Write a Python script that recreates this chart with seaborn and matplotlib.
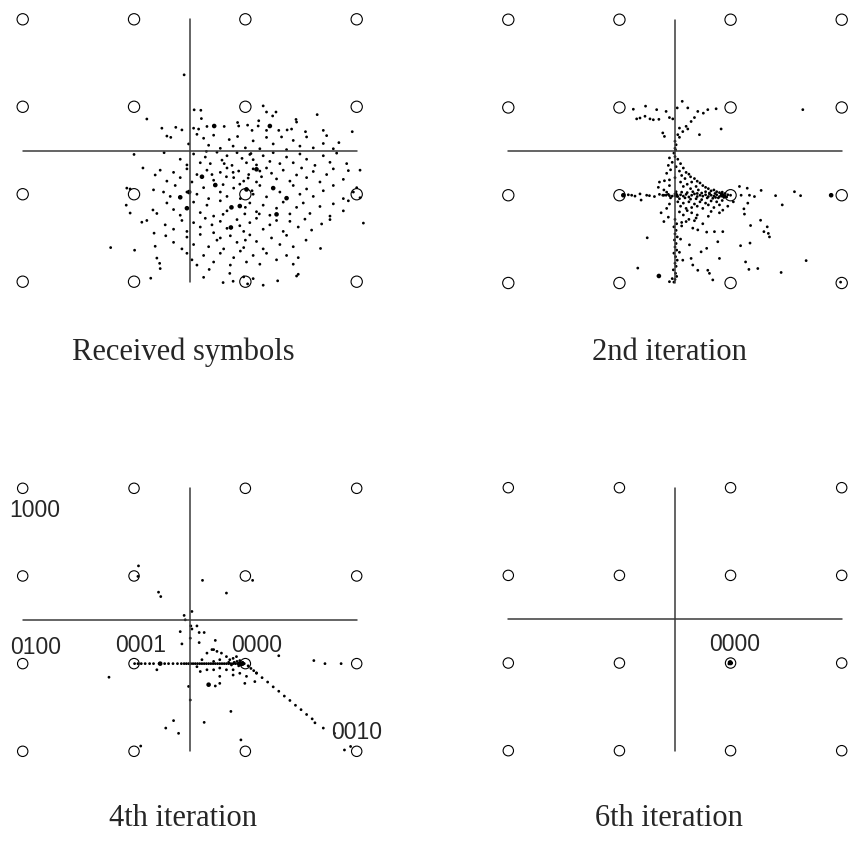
import matplotlib
matplotlib.use("Agg")
import matplotlib.pyplot as plt
import pandas as pd
import seaborn as sns

# 16-QAM reference grid
levels = [-3, -1, 1, 3]

# Received symbols (panel 1)
received = [
    (-0.10, 1.73),
    (0.08, 0.93), (0.20, 0.92), (1.32, 1.02), (1.38, 0.88), (1.49, 0.79), (1.55, 0.88),
    (-0.77, 0.72), (-0.50, 0.51), (-0.25, 0.53), (-0.14, 0.47), (0.07, 0.51), (0.16, 0.49),
    (0.21, 0.73), (0.31, 0.55), (0.62, 0.55), (0.86, 0.64), (0.88, 0.56), (1.04, 0.58),
    (1.12, 0.46), (1.23, 0.56), (1.24, 0.68), (1.38, 0.46), (1.60, 0.46), (1.75, 0.47),
    (1.83, 0.49), (1.91, 0.71), (1.92, 0.65), (2.08, 0.43), (2.29, 0.82), (2.40, 0.46), (2.92, 0.43),
    (-0.41, 0.33), (-0.34, 0.30), (-0.02, 0.15), (0.13, 0.37), (0.25, 0.28), (0.34, 0.12),
    (0.43, 0.35), (0.55, 0.05), (0.71, 0.25), (0.78, 0.10), (0.86, 0.32), (1.00, 0.06),
    (1.14, 0.22), (1.26, 0.04), (1.38, 0.30), (1.50, 0.15), (1.65, 0.31), (1.74, 0.02),
    (1.86, 0.23), (1.98, 0.10), (2.10, 0.31), (2.22, 0.06), (2.40, 0.16), (2.46, 0.34),
    (2.58, 0.04), (2.68, 0.18), (-1.00, -0.09),
    (-0.84, -0.40), (-0.46, -0.05), (-0.17, -0.20), (-0.05, -0.33), (0.07, -0.08), (0.19, -0.28),
    (0.28, -0.15), (0.37, -0.30), (0.49, -0.04), (0.58, -0.22), (0.67, -0.12), (0.76, -0.34),
    (0.85, -0.05), (0.94, -0.18), (1.02, -0.28), (1.08, -0.09), (1.14, -0.21), (1.20, -0.33),
    (1.32, -0.12), (1.44, -0.25), (1.50, -0.05), (1.62, -0.30), (1.74, -0.15), (1.86, -0.28),
    (1.98, -0.08), (2.10, -0.20), (2.25, -0.34), (2.40, -0.12), (2.52, -0.27), (2.64, -0.06),
    (2.82, -0.30), (0.62, -0.30), (1.10, -0.07), (0.30, -0.02),
    (-0.62, -0.56), (-0.53, -0.45), (-0.41, -0.70), (-0.29, -0.50), (-0.17, -0.62), (-0.05, -0.42),
    (0.04, -0.72), (0.13, -0.55), (0.22, -0.60), (0.31, -0.45), (0.43, -0.68), (0.55, -0.50),
    (0.67, -0.40), (0.79, -0.62), (0.88, -0.47), (0.97, -0.70), (1.06, -0.55), (1.14, -0.42),
    (1.20, -0.72), (1.29, -0.60), (1.38, -0.40), (1.47, -0.52), (1.56, -0.65), (1.68, -0.45),
    (1.80, -0.70), (1.92, -0.56), (2.01, -0.40), (2.10, -0.62), (2.22, -0.48), (2.34, -0.72),
    (2.46, -0.55), (2.58, -0.42), (2.76, -0.66), (2.85, -0.46), (3.06, -0.45), (0.66, -0.60),
    (1.05, -0.63), (1.26, -0.47), (0.78, -0.50), (0.40, -0.55),
    (-1.13, -0.86), (-1.07, -0.88), (-0.65, -0.90), (-0.47, -0.95), (-0.35, -1.05), (-0.26, -0.80),
    (-0.17, -1.07), (-0.05, -0.95), (-0.01, -0.95), (0.13, -1.00), (0.25, -0.85), (0.34, -1.10),
    (0.46, -0.78), (0.55, -0.95), (0.67, -1.05), (0.79, -0.86), (0.91, -1.10), (1.02, -0.88),
    (1.14, -1.00), (1.26, -0.80), (1.38, -1.06), (1.50, -0.86), (1.62, -0.95), (1.74, -1.10),
    (1.86, -0.80), (1.98, -1.00), (2.10, -0.88), (2.22, -1.05), (2.40, -0.92), (2.58, -0.80),
    (2.76, -1.10), (2.94, -0.95), (3.00, -0.85), (3.06, -1.08), (0.45, -0.80), (0.60, -0.78),
    (0.90, -0.77), (1.12, -0.92),
    (-1.14, -1.25), (-1.07, -1.43), (-0.66, -1.36), (-0.59, -1.44), (-0.41, -1.20), (-0.29, -1.35),
    (-0.17, -1.48), (-0.05, -1.32), (0.07, -1.18), (0.19, -1.42), (0.31, -1.25), (0.43, -1.50),
    (0.55, -1.15), (0.67, -1.38), (0.75, -1.30), (0.90, -1.27), (0.99, -1.45), (1.08, -1.20),
    (1.20, -1.40), (1.32, -1.25), (1.44, -1.48), (1.56, -1.32), (1.68, -1.18), (1.80, -1.45),
    (1.92, -1.30), (2.04, -1.20), (2.16, -1.44), (2.34, -1.28), (2.52, -1.50), (2.58, -1.22),
    (2.76, -1.38), (2.85, -1.15), (1.25, -1.45), (0.60, -1.46), (1.00, -1.30),
    (-0.86, -1.64), (-0.77, -1.60), (-0.64, -1.89), (-0.44, -1.70), (-0.29, -1.80), (-0.14, -1.60),
    (-0.05, -1.85), (0.07, -1.65), (0.19, -1.75), (0.28, -1.55), (0.43, -1.88), (0.55, -1.62),
    (0.67, -1.78), (0.74, -1.77), (0.85, -1.58), (0.97, -1.85), (1.08, -1.65), (1.20, -1.55),
    (1.32, -1.80), (1.44, -1.70), (1.56, -1.60), (1.68, -1.85), (1.80, -1.62), (1.95, -1.75),
    (2.07, -1.57), (2.19, -1.82), (2.37, -1.68), (2.52, -1.58), (3.12, -1.66), (0.40, -1.70),
    (0.90, -1.72),
    (-1.42, -2.22), (-0.99, -2.28), (-0.62, -2.19), (-0.43, -1.95), (-0.29, -2.10), (-0.14, -2.25),
    (-0.05, -1.98), (0.07, -2.15), (0.19, -1.92), (0.34, -2.20), (0.49, -2.05), (0.61, -2.25),
    (0.73, -1.95), (0.85, -2.10), (0.97, -2.22), (1.08, -1.93), (1.20, -2.08), (1.32, -2.25),
    (1.47, -2.00), (1.62, -2.15), (1.74, -1.94), (1.86, -2.20), (2.09, -2.05), (2.35, -2.24),
    (0.55, -2.00), (1.00, -2.05),
    (-0.59, -2.46), (-0.54, -2.58), (-0.05, -2.35), (0.04, -2.50), (0.13, -2.62), (0.25, -2.40),
    (0.43, -2.55), (0.55, -2.35), (0.73, -2.62), (0.79, -2.45), (0.91, -2.30), (1.02, -2.55),
    (1.14, -2.40), (1.26, -2.60), (1.38, -2.35), (1.56, -2.50), (1.74, -2.40), (1.86, -2.60),
    (1.95, -2.45),
    (-0.70, -2.92), (-0.53, -2.70), (0.25, -2.90), (0.35, -2.72), (0.60, -3.02), (0.72, -2.81),
    (0.78, -2.99), (0.97, -2.89), (1.04, -3.05), (1.14, -2.93), (1.32, -3.08), (1.58, -2.98),
    (1.92, -2.87), (1.95, -2.83),
]
received_heavy = [
    (0.44, 0.56), (1.44, 0.56), (0.22, -0.60), (1.20, -0.43), (-0.17, -1.07), (-0.01, -0.95),
    (0.46, -0.79), (1.02, -0.89), (1.50, -0.86), (1.74, -1.09), (-0.05, -1.32), (0.75, -1.30),
    (0.90, -1.27), (1.56, -1.46), (0.74, -1.76),
]

# 2nd iteration
iter2 = [
    (-0.75, 0.96), (-0.53, 1.03), (-0.33, 0.95), (-0.16, 0.91), (-0.69, 0.74), (-0.63, 0.76),
    (-0.54, 0.80), (-0.45, 0.74), (-0.39, 0.72), (-0.29, 0.73), (-0.10, 0.77), (-0.04, 0.74),
    (0.04, 0.99), (0.13, 1.14), (0.23, 0.99), (0.41, 0.91), (0.51, 0.87), (0.59, 0.95),
    (0.74, 0.97), (0.35, 0.77), (0.29, 0.68), (0.20, 0.57), (0.08, 0.53), (0.14, 0.45),
    (0.05, 0.38), (0.23, 0.51), (0.44, 0.38), (0.83, 0.51), (-0.22, 0.42), (-0.19, 0.34),
    (0.08, 0.32), (0.00, 0.23), (0.02, 0.15), (0.00, 0.07), (0.01, 0.03), (-0.02, -0.04),
    (0.00, -0.12), (2.30, 0.95),
    (-0.10, -0.15), (0.05, -0.18), (-0.05, -0.25), (0.10, -0.28), (-0.12, -0.32), (0.02, -0.35),
    (0.15, -0.38), (-0.08, -0.42), (0.08, -0.45), (0.20, -0.48), (-0.15, -0.50), (0.12, -0.55),
    (0.25, -0.52), (0.00, -0.60), (0.18, -0.62),
    (0.28, -0.58), (0.35, -0.62), (0.30, -0.70), (0.40, -0.68), (0.22, -0.75), (0.45, -0.72),
    (0.38, -0.80), (0.50, -0.78), (0.28, -0.85), (0.42, -0.88), (0.55, -0.82), (0.15, -0.80),
    (0.32, -0.92), (0.10, -0.70), (-0.10, -0.78), (-0.20, -0.88), (-0.30, -0.82),
    (0.60, -0.85), (0.65, -0.90), (0.70, -0.88), (0.75, -0.92), (0.80, -0.94), (0.85, -0.93),
    (0.90, -0.96), (0.62, -0.95), (0.72, -0.96), (0.55, -0.92), (0.48, -0.95), (0.40, -0.96),
    (-0.20, -1.00), (-0.12, -0.98), (-0.05, -1.02), (0.00, -0.97), (0.05, -1.03), (0.10, -0.99),
    (0.15, -1.02), (0.20, -0.98), (0.25, -1.04), (0.30, -1.00), (0.35, -0.97), (0.40, -1.03),
    (0.45, -1.00), (0.50, -1.02), (0.55, -0.99), (0.60, -1.03), (0.65, -1.00), (0.70, -1.02),
    (0.75, -0.99), (0.80, -1.03), (0.85, -1.00), (0.90, -1.02), (0.95, -0.99), (1.00, -1.00),
    (0.58, -1.06), (0.68, -1.07), (0.78, -1.06), (0.88, -1.05), (0.62, -0.97), (0.73, -1.05),
    (0.83, -0.97), (0.93, -1.04), (-0.08, -1.06), (0.08, -1.08), (0.18, -1.06), (0.28, -1.09),
    (0.38, -1.08), (0.48, -1.10), (-0.15, -0.93), (0.02, -0.92), (0.12, -0.93), (0.22, -0.94),
    (0.05, -1.15), (0.15, -1.18), (0.25, -1.15), (0.35, -1.20), (0.45, -1.15), (0.55, -1.18),
    (0.65, -1.13), (0.75, -1.15), (0.85, -1.12), (0.10, -1.25), (0.20, -1.30), (0.30, -1.28),
    (0.40, -1.25), (0.50, -1.30), (0.60, -1.22), (0.70, -1.28), (0.95, -1.25), (1.05, -1.15),
    (0.22, -1.35), (0.30, -1.40), (0.15, -1.45), (0.08, -1.38), (-0.15, -1.30), (-0.25, -1.40),
    (-0.10, -1.20), (0.40, -1.45), (0.60, -1.48), (0.80, -1.40), (0.25, -1.55), (-0.20, -1.60),
    (-0.12, -1.50), (0.12, -1.62), (0.35, -1.58), (0.50, -1.65),
    (0.00, -1.55), (0.03, -1.65), (-0.02, -1.72), (0.02, -1.80), (0.00, -1.88), (0.04, -1.95),
    (-0.01, -2.02), (0.02, -2.10), (0.00, -2.18), (0.03, -2.25), (-0.02, -2.32), (0.01, -2.40),
    (0.04, -2.48), (0.00, -2.55), (0.02, -2.62), (-0.03, -2.70), (0.01, -2.78), (0.03, -2.85),
    (0.00, -2.92), (-0.02, -2.98), (0.10, -2.00), (0.08, -2.30), (0.12, -1.70), (-0.05, -2.90),
    (-0.93, -1.00), (-0.84, -0.99), (-0.78, -1.00), (-0.72, -1.02), (-0.63, -0.97), (-0.61, -1.11),
    (-0.51, -1.00), (-0.46, -1.01), (-0.37, -1.03), (-0.28, -0.98), (-0.22, -1.00), (-0.16, -1.00),
    (-0.10, -1.01), (-0.28, -0.70), (-0.19, -0.67), (-0.10, -0.65),
    (0.14, -2.48), (0.29, -2.44), (0.32, -2.59), (0.41, -2.71), (0.47, -2.29), (0.59, -2.71),
    (0.62, -2.78), (0.68, -2.93), (0.80, -2.44), (0.77, -2.06), (0.71, -1.83), (0.57, -1.84),
    (0.86, -1.83), (0.57, -2.21), (0.41, -1.79), (0.32, -1.75), (0.26, -2.13), (0.20, -1.60),
    (0.38, -1.52), (0.65, -1.37), (0.80, -1.22), (0.86, -1.34), (-0.50, -1.97), (-0.67, -2.66),
    (-0.10, -2.97),
    (1.16, -0.80), (1.30, -0.84), (1.19, -1.00), (1.34, -1.00), (1.43, -1.03), (1.55, -0.89),
    (1.81, -1.01), (2.15, -0.92), (2.26, -1.01), (1.93, -1.22), (1.31, -1.18), (1.24, -1.31),
    (1.25, -1.43), (1.36, -1.69), (1.54, -1.57), (1.66, -1.72), (1.60, -1.83), (1.68, -1.87),
    (1.70, -1.95), (1.35, -2.09), (1.18, -2.15), (2.36, -2.49), (1.27, -2.52), (1.33, -2.69),
    (1.49, -2.67), (1.91, -2.76), (2.98, -2.98),
]
iter2_heavy = [(-0.29, -2.84), (2.81, -1.00), (-0.93, -1.00), (0.02, -1.00), (0.85, -1.00)]

# 4th iteration
iter4 = [
    (-0.92, 1.23), (-0.93, 0.99), (0.23, 0.90), (1.13, 0.90), (-0.56, 0.63), (-0.52, 0.53),
    (0.66, 0.61), (-0.10, 0.10), (0.04, 0.19), (-0.08, 0.00), (0.02, -0.14), (0.13, -0.14),
    (-0.17, -0.27), (0.04, -0.21), (0.17, -0.29), (0.26, -0.29), (-0.14, -0.55), (0.17, -0.52),
    (0.01, -0.42), (0.46, -0.47), (0.43, -0.68),
    (-0.99, -1.00), (-0.93, -1.00), (-0.87, -1.00), (-0.80, -1.00), (-0.72, -1.00), (-0.65, -1.00),
    (-0.55, -1.00), (-0.45, -1.00), (-0.38, -1.00), (-0.30, -1.00), (-0.22, -1.00), (-0.15, -1.00),
    (-0.10, -1.00), (-0.06, -1.00), (-0.02, -1.00), (0.02, -1.00), (0.06, -1.00), (0.10, -1.00),
    (0.14, -1.00), (0.18, -1.00), (0.22, -1.00), (0.26, -1.00), (0.30, -1.00), (0.34, -1.00),
    (0.38, -1.00), (0.42, -1.00), (0.46, -1.00), (0.50, -1.00), (0.54, -1.00), (0.58, -1.00),
    (0.62, -1.00), (0.66, -1.00), (0.70, -1.00), (0.74, -1.00), (0.78, -1.00), (0.82, -1.00),
    (0.86, -1.00), (0.90, -1.00), (0.94, -1.00), (0.98, -1.00), (0.85, -0.95), (0.90, -0.93),
    (0.95, -0.97), (0.88, -1.05), (0.93, -1.03), (0.80, -0.97), (0.75, -1.03), (0.70, -0.97),
    (1.05, -1.05), (1.10, -1.11), (1.15, -1.16), (1.20, -1.21), (1.30, -1.32), (1.40, -1.42),
    (1.50, -1.53), (1.60, -1.63), (1.70, -1.74), (1.80, -1.84), (1.90, -1.95), (2.00, -2.05),
    (2.10, -2.16), (2.20, -2.26), (2.25, -2.35), (2.40, -2.47),
    (-1.45, -1.31), (-0.59, -1.14), (-0.02, -1.52), (0.01, -1.83), (0.46, -1.51), (0.54, -1.45),
    (0.74, -2.09), (0.26, -2.34), (-0.29, -2.30), (-0.43, -2.47), (-0.20, -2.59), (-0.88, -2.88),
    (0.92, -2.74), (1.60, -0.82), (2.23, -0.93), (2.43, -1.00), (2.72, -1.00), (2.60, -2.59),
    (2.78, -2.97), (2.89, -2.89),
    (0.31, -0.76), (0.40, -0.68), (0.49, -0.72), (0.57, -0.76), (0.66, -0.84), (0.72, -0.91),
    (0.78, -0.88), (0.84, -0.84), (0.54, -0.91), (0.43, -0.95), (0.31, -1.14), (0.43, -1.14),
    (0.54, -1.10), (0.66, -1.14), (0.78, -1.14), (0.90, -1.22), (1.02, -1.29), (1.20, -1.22),
    (1.17, -1.41), (0.99, -1.45), (0.78, -1.26), (0.54, -1.29), (0.19, -1.18), (0.13, -1.07),
    (0.22, -0.91),
]
iter4_heavy = [(-0.53, -1.00), (0.34, -1.48), (0.95, -1.00), (0.90, -1.00)]

# 6th iteration
iter6 = [(1.00, -1.00), (0.98, -0.98), (1.02, -1.00), (0.97, -1.02), (1.00, -0.97)]
iter6_heavy = [(1.00, -1.00), (0.99, -0.99)]

captions = ["Received symbols", "2nd iteration", "4th iteration", "6th iteration"]

# bit labels (text, x, y)
labels4 = [("1000", -2.78, 2.49), ("0100", -2.77, -0.64), ("0001", -0.89, -0.59),
           ("0000", 1.21, -0.59), ("0010", 2.99, -2.56)]
labels6 = [("0000", 1.08, -0.57)]

W, H = 849, 843
fig = plt.figure(figsize=(W / 100, H / 100), dpi=100)
sns.set_style("white")

# panel extents in pixels: x0, x1, ytop, ybottom (grid spans -3..3)
boxes = [(22.7, 356.7, 19.3, 281.7), (508.3, 841.7, 19.7, 283.0),
         (22.7, 356.7, 488.3, 751.3), (508.3, 841.7, 487.7, 750.7)]
cloud_sets = [(received, received_heavy), (iter2, iter2_heavy),
              (iter4, iter4_heavy), (iter6, iter6_heavy)]
ring_size = [66, 66, 56, 56]
caption_pos = [(183, 352), (669, 352), (183, 818), (669, 818)]

grid = pd.DataFrame([(a, b) for a in levels for b in levels], columns=["x", "y"])

for i, (x0, x1, yt, yb) in enumerate(boxes):
    ax = fig.add_axes([x0 / W, 1 - yb / H, (x1 - x0) / W, (yb - yt) / H])
    ax.set_xlim(-3, 3)
    ax.set_ylim(-3, 3)
    ax.axis("off")
    ax.plot([0, 0], [-3, 3], color="#3a3a3a", lw=1.1, clip_on=False)
    ax.plot([-3, 3], [0, 0], color="#3a3a3a", lw=1.1, clip_on=False)

    pts, heavy = cloud_sets[i]
    df = pd.DataFrame(pts, columns=["x", "y"])
    dh = pd.DataFrame(heavy, columns=["x", "y"])
    sns.scatterplot(data=df, x="x", y="y", ax=ax, color="black", s=4,
                    edgecolor="none", linewidth=0)
    sns.scatterplot(data=dh, x="x", y="y", ax=ax, color="black", s=11,
                    edgecolor="none", linewidth=0)
    sns.scatterplot(data=grid, x="x", y="y", ax=ax, s=ring_size[i], facecolor="none",
                    edgecolor="black", linewidth=0.8)
    for c in ax.collections:
        c.set_clip_on(False)
    ax.set_xlabel("")
    ax.set_ylabel("")

    if i == 2:
        for t, lx, ly in labels4:
            ax.text(lx, ly, t, ha="center", va="center", fontsize=16.5,
                    family="Liberation Sans")
    if i == 3:
        for t, lx, ly in labels6:
            ax.text(lx, ly, t, ha="center", va="center", fontsize=16.5,
                    family="Liberation Sans")

    cx, cy = caption_pos[i]
    fig.text(cx / W, 1 - cy / H, captions[i], ha="center", va="center",
             fontsize=22, family="Liberation Serif")

fig.savefig("out.png", dpi=100, facecolor="white")
